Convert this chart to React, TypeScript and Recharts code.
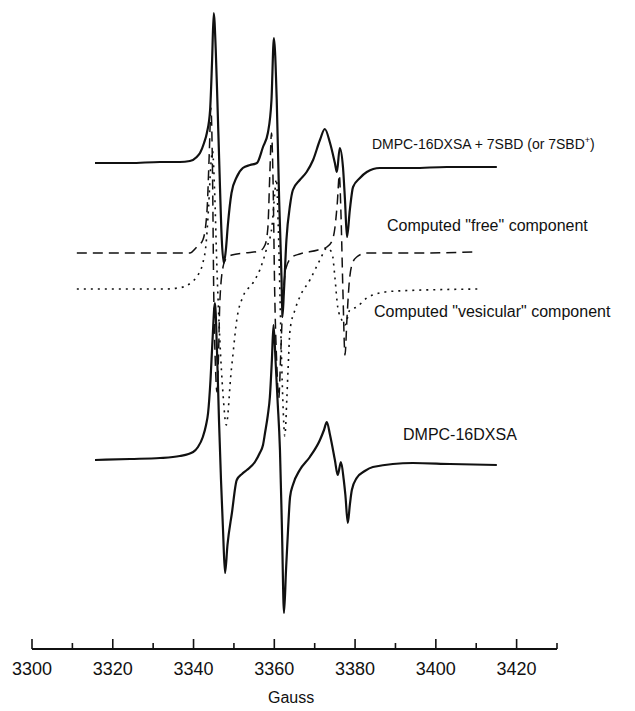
import React from "react";
import { Line, LineChart, XAxis, YAxis } from "recharts";

const W = 635;
const H = 711;
const FONT = '"Liberation Sans", Arial, Helvetica, sans-serif';

// Magnetic field (G) and derivative signal (arb. units, baseline = 0) for each trace.
const mixField = [
  3315.6, 3324.3, 3331.7, 3336.6, 3339.1, 3340.8, 3341.6, 3342.6, 3343.3, 3344.1, 3344.6, 3345.0,
  3345.5, 3345.9, 3346.4, 3347.0, 3347.5, 3348.0, 3348.5, 3349.4, 3350.7, 3352.2, 3354.0, 3355.7,
  3357.2, 3358.4, 3359.3, 3359.9, 3360.6, 3361.2, 3361.8, 3362.0, 3362.4, 3363.0, 3363.9, 3364.6,
  3366.3, 3368.0, 3369.6, 3371.3, 3372.5, 3373.8, 3375.0, 3375.5, 3376.2, 3377.0, 3377.5, 3378.0,
  3378.7, 3379.5, 3381.2, 3382.9, 3386.1, 3394.3, 3402.7, 3415.1,
];
const mixSignal = [
  0, 0, 1, 1, 2, 6, 10, 20, 30, 53, 103, 150,
  113, 63, -4, -77, -100, -87, -62, -30, -14, -5, -2, 0,
  16, 30, 63, 125, 63, -37, -117, -154, -127, -77, -42, -27,
  -17, -9, 3, 23, 34, 20, 0, -9, 15, -4, -37, -74,
  -47, -24, -15, -9, -5, -5, -4, -4,
];

const freeField = [
  3311.1, 3329.2, 3339.1, 3340.8, 3342.3, 3343.3, 3343.9, 3344.3, 3344.7, 3345.0, 3345.4, 3345.8,
  3346.2, 3346.5, 3347.3, 3348.0, 3349.5, 3352.7, 3356.4, 3357.7, 3358.4, 3358.9, 3359.3, 3359.7,
  3360.1, 3360.6, 3361.1, 3361.6, 3362.1, 3362.9, 3364.4, 3366.3, 3370.8, 3373.0, 3374.3, 3375.0,
  3375.6, 3376.1, 3376.5, 3377.0, 3377.5, 3378.0, 3378.5, 3379.2, 3380.4, 3382.9, 3396.0, 3410.1,
];
const freeSignal = [
  0, 0, 0, 6, 13, 40, 100, 145, 80, -40, -110, -139,
  -100, -50, -14, -6, -2, 0, 2, 8, 25, 80, 120, 70,
  -40, -110, -145, -100, -50, -15, -4, -1, 3, 6, 12, 25,
  50, 78, 40, -40, -102, -65, -32, -12, -4, 0, 0, 1,
];

const vesField = [
  3311.1, 3332.9, 3336.1, 3338.1, 3339.6, 3341.1, 3342.3, 3343.1, 3343.7, 3344.3, 3344.7, 3345.2,
  3345.8, 3346.5, 3347.3, 3348.1, 3348.8, 3349.0, 3349.8, 3350.7, 3352.2, 3354.7, 3356.4, 3358.2,
  3359.4, 3360.1, 3360.5, 3361.0, 3361.6, 3362.1, 3362.6, 3363.1, 3363.4, 3363.9, 3365.1, 3366.3,
  3368.8, 3371.3, 3373.0, 3374.3, 3375.0, 3375.7, 3376.7, 3377.5, 3378.7, 3380.4, 3382.9, 3386.1,
  3390.3, 3410.9,
];
const vesSignal = [
  0, 0, 1, 3, 7, 14, 26, 45, 80, 125, 138, 100,
  20, -50, -105, -136, -110, -98, -64, -31, -8, 6, 19, 42,
  62, 95, 110, 60, -40, -110, -147, -110, -81, -41, -21, -8,
  9, 29, 41, 36, 12, -18, -31, -36, -21, -18, -9, -4,
  -2, 0,
];

const lipidField = [
  3315.6, 3324.3, 3331.7, 3336.6, 3339.9, 3341.1, 3342.3, 3343.1, 3343.6, 3344.2, 3344.7, 3345.3,
  3345.8, 3346.3, 3346.8, 3347.3, 3347.8, 3348.4, 3349.5, 3350.7, 3352.0, 3353.2, 3355.2, 3356.4,
  3357.2, 3357.7, 3358.4, 3358.9, 3359.4, 3359.8, 3360.3, 3360.8, 3361.4, 3361.9, 3362.4, 3362.9,
  3363.4, 3363.9, 3364.6, 3366.3, 3368.8, 3371.3, 3372.3, 3373.0, 3373.8, 3375.0, 3375.7, 3376.5,
  3377.2, 3377.6, 3378.2, 3378.7, 3379.2, 3380.4, 3382.4, 3384.4, 3394.3, 3403.5, 3415.1,
];
const lipidSignal = [
  0, 1, 2, 4, 8, 13, 23, 35, 47, 80, 120, 157,
  110, 40, -20, -70, -113, -85, -53, -20, -14, -10, -2, 7,
  15, 27, 45, 63, 100, 135, 100, 60, 10, -70, -153, -110,
  -70, -37, -25, -10, 3, 20, 30, 38, 25, 0, -15, -2,
  -20, -35, -63, -45, -30, -18, -11, -7, -3, -4, -5,
];

// vertical stacking of the four traces
const MIX_OFFSET = 486;
const FREE_OFFSET = 396;
const VES_OFFSET = 360;
const LIPID_OFFSET = 189;

const fieldTicks = [3300, 3310, 3320, 3330, 3340, 3350, 3360, 3370, 3380, 3390, 3400, 3410, 3420, 3430];
const labelledTicks = [3300, 3320, 3340, 3360, 3380, 3400, 3420];

const toPoints = (field: number[], signal: number[], offset: number) =>
  field.map((g, i) => ({ g, v: offset + signal[i] }));

// ticks point up into the plot; only every 20 G gets a number
const GaussTick = (props: any) => {
  const { x, y, payload } = props;
  const major = labelledTicks.includes(payload.value);
  return (
    <g>
      <line x1={x} x2={x} y1={y} y2={y - (major ? 10 : 6)} stroke="#111" strokeWidth={1.6} />
      {major && (
        <text x={x} y={y + 26} textAnchor="middle" fontFamily={FONT} fontSize={18} fill="#111">
          {payload.value}
        </text>
      )}
    </g>
  );
};

const label = (left: number, top: number, size: number): React.CSSProperties => ({
  position: "absolute",
  left,
  top,
  fontFamily: FONT,
  fontSize: size,
  lineHeight: 1,
  color: "#111",
  whiteSpace: "nowrap",
});

export default function App() {
  return (
    <div style={{ position: "absolute", left: 0, top: 0, width: W, height: H, background: "#fff" }}>
      <LineChart width={W} height={H} margin={{ top: 0, right: 78, bottom: 0, left: 32 }}>
        <XAxis
          type="number"
          dataKey="g"
          domain={[3300, 3430]}
          ticks={fieldTicks}
          interval={0}
          height={62}
          tickSize={0}
          tickMargin={0}
          tickLine={false}
          axisLine={{ stroke: "#111", strokeWidth: 1.8 }}
          tick={<GaussTick />}
          allowDataOverflow
        />
        <YAxis hide type="number" domain={[0, 649]} allowDataOverflow />
        <Line
          data={toPoints(vesField, vesSignal, VES_OFFSET)}
          dataKey="v"
          type="monotoneX"
          dot={false}
          stroke="#111"
          strokeWidth={1.6}
          strokeDasharray="2 5"
          isAnimationActive={false}
        />
        <Line
          data={toPoints(freeField, freeSignal, FREE_OFFSET)}
          dataKey="v"
          type="monotoneX"
          dot={false}
          stroke="#111"
          strokeWidth={1.5}
          strokeDasharray="10 6"
          isAnimationActive={false}
        />
        <Line
          data={toPoints(mixField, mixSignal, MIX_OFFSET)}
          dataKey="v"
          type="monotoneX"
          dot={false}
          stroke="#111"
          strokeWidth={2.2}
          isAnimationActive={false}
        />
        <Line
          data={toPoints(lipidField, lipidSignal, LIPID_OFFSET)}
          dataKey="v"
          type="monotoneX"
          dot={false}
          stroke="#111"
          strokeWidth={2.2}
          isAnimationActive={false}
        />
      </LineChart>

      <div style={label(372, 136, 14)}>
        DMPC-16DXSA + 7SBD (or 7SBD<sup style={{ fontSize: 9 }}>+</sup>)
      </div>
      <div style={label(387, 218, 16)}>Computed "free" component</div>
      <div style={label(374, 304, 16)}>Computed "vesicular" component</div>
      <div style={label(403, 427, 16)}>DMPC-16DXSA</div>
      <div style={label(268, 690, 16)}>Gauss</div>
    </div>
  );
}
